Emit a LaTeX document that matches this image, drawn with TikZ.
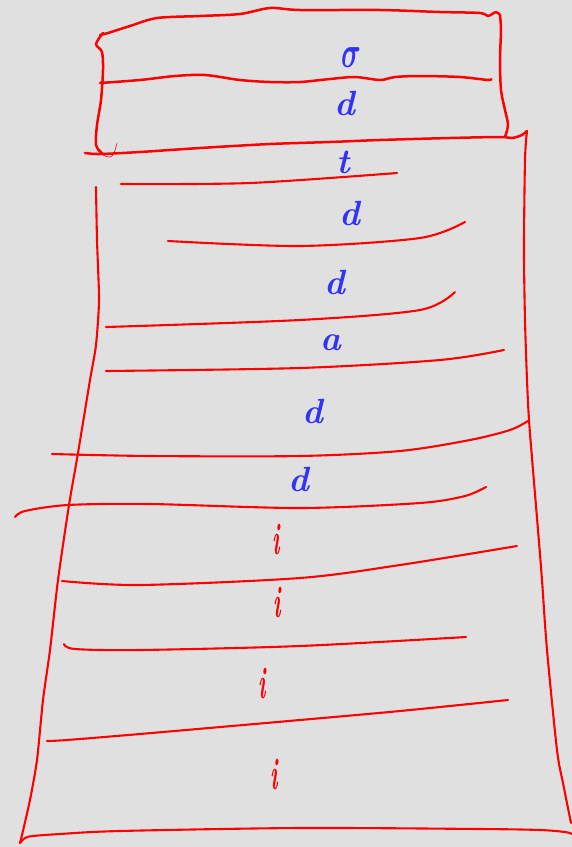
\documentclass[tikz,border=0pt]{standalone}
\usepackage{graphicx}
\usepackage{bm}
\definecolor{bg}{HTML}{E0E0E0}
\definecolor{pen}{HTML}{FF0000}
\definecolor{ink}{HTML}{3333F5}
\tikzset{
  redline/.style={draw=pen, line width=2.1pt, line cap=round, line join=round},
  boxline/.style={draw=pen, line width=2.5pt, line cap=round, line join=round},
  thinline/.style={draw=pen, line width=0.6pt, line cap=round},
  letter/.style={text=ink, inner sep=0pt, font=\fontsize{35}{35}\selectfont\bfseries\itshape},
  redi/.style={text=pen, inner sep=0pt, font=\fontsize{30}{30}\selectfont\bfseries\itshape}
}
\begin{document}
\begin{tikzpicture}[x=1pt,y=-1pt]
\path[use as bounding box, fill=bg] (0,0) rectangle (572,847);
% top box
\draw[boxline] plot[smooth,tension=0.5] coordinates {(103,33) (96,44) (102,52) (103,70) (101,100) (97,125) (96,145) (102,153)};
\draw[boxline] plot[smooth,tension=0.5] coordinates {(100,35) (108,33) (130,26) (157,18) (200,16) (240,14) (270,8) (300,10) (380,10) (440,12) (480,13) (488,16) (496,12) (500,15)};
\draw[boxline] plot[smooth,tension=0.5] coordinates {(500,15) (501,30) (500,60) (501,90) (505,110) (508,125) (505,137)};
\draw[boxline] plot[smooth,tension=0.5] coordinates {(100,83) (140,80) (175,76) (205,75) (240,80) (270,82) (300,82) (330,79) (355,77) (380,80) (395,77) (420,76) (460,77) (488,80) (491,79)};
% top edge of the big box
\draw[boxline] plot[smooth,tension=0.5] coordinates {(85,153) (100,154) (140,152) (200,148) (270,144) (330,142) (380,140) (450,138) (500,137) (512,138) (522,135) (527,131)};
\draw[thinline] plot[smooth,tension=0.6] coordinates {(97,150) (103,155) (110,157) (114,153) (117,143)};
% big box sides and bottom
\draw[redline] plot[smooth,tension=0.5] coordinates {(527,131) (525,160) (524,250) (525,320) (527,380) (529,420) (533,470) (538,530) (542,580) (547,650) (557,750) (563,783) (571,823)};
\draw[redline] plot[smooth,tension=0.4] coordinates {(96,187) (97,240) (99,300) (96,345) (90,380) (78,453) (69,505) (58,580) (50,650) (43,700) (37,760) (30,800) (22,835) (20,843)};
\draw[redline] plot[smooth,tension=0.5] coordinates {(20,843) (25,838) (33,836) (60,834) (120,831) (300,828) (480,829) (540,830) (565,832) (572,834)};
% shelves
\draw[redline] plot[smooth,tension=0.5] coordinates {(121,184) (250,183) (397,173)};
\draw[redline] plot[smooth,tension=0.5] coordinates {(168,241) (300,246) (420,238) (465,222)};
\draw[redline] plot[smooth,tension=0.5] coordinates {(106,327) (300,320) (420,310) (455,292)};
\draw[redline] plot[smooth,tension=0.5] coordinates {(106,371) (300,368) (440,360) (504,350)};
\draw[redline] plot[smooth,tension=0.5] coordinates {(52,454) (150,456) (300,456) (400,451) (470,440) (510,430) (528,421)};
\draw[redline] plot[smooth,tension=0.5] coordinates {(15,517) (25,511) (68,505) (150,504) (300,508) (420,503) (465,496) (486,487)};
\draw[redline] plot[smooth,tension=0.5] coordinates {(62,581) (140,585) (300,578) (400,565) (517,546)};
\draw[redline] plot[smooth,tension=0.5] coordinates {(64,644) (75,649) (140,650) (300,646) (466,637)};
\draw[redline] plot[smooth,tension=0.5] coordinates {(47,741) (67,740) (140,734) (300,720) (400,711) (508,700)};
% letters
\node[letter] (l1) at (351,58) {\scalebox{1.1}[1.8]{$\bm{\sigma}$}};
\node[letter] (l2) at (345,103) {d};
\node[letter] (l3) at (343,162) {t};
\node[letter] (l4) at (350,213) {d};
\node[letter] (l5) at (335,282) {d};
\node[letter] (l6) at (331,343) {a};
\node[letter] (l7) at (313,411) {d};
\node[letter] (l8) at (299,479) {d};
% red i marks
\node[redi] (i1) at (276,540) {\scalebox{0.7}[1.5]{i}};
\node[redi] (i2) at (277,603) {\scalebox{0.7}[1.5]{i}};
\node[redi] (i3) at (262,684) {\scalebox{0.7}[1.5]{i}};
\node[redi] (i4) at (274,775) {\scalebox{0.7}[1.5]{i}};
\end{tikzpicture}
\end{document}
